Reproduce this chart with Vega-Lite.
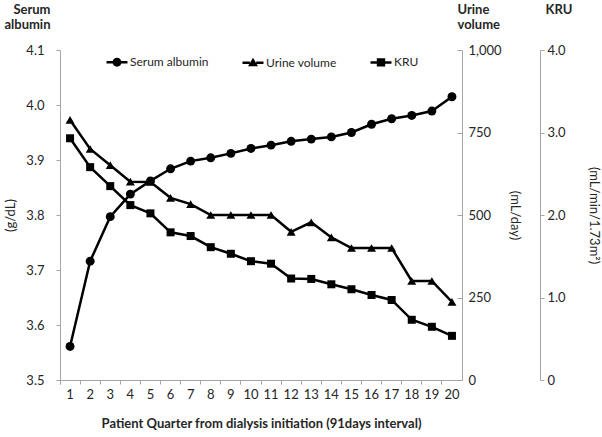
{
  "$schema": "https://vega.github.io/schema/vega-lite/v6.json",
  "width": 402,
  "height": 330,
  "autosize": "none",
  "padding": {"left": 60, "top": 50, "right": 140, "bottom": 57},
  "background": "white",
  "config": {
    "font": "Lato",
    "view": {"stroke": null},
    "axis": {
      "labelFont": "Lato",
      "titleFont": "Lato",
      "labelFontSize": 13,
      "titleFontSize": 13,
      "labelColor": "#262626",
      "titleColor": "#262626",
      "titleFontWeight": "normal",
      "domainColor": "#a6a6a6",
      "tickColor": "#a6a6a6",
      "grid": false
    }
  },
  "layer": [
    {
      "data": {
        "values": [
          {"q": 1, "albumin": 3.561, "urine": 788, "kru": 2.93},
          {"q": 2, "albumin": 3.716, "urine": 700, "kru": 2.58},
          {"q": 3, "albumin": 3.797, "urine": 651, "kru": 2.35},
          {"q": 4, "albumin": 3.838, "urine": 601, "kru": 2.12},
          {"q": 5, "albumin": 3.862, "urine": 600, "kru": 2.02},
          {"q": 6, "albumin": 3.884, "urine": 552, "kru": 1.79},
          {"q": 7, "albumin": 3.898, "urine": 533, "kru": 1.745},
          {"q": 8, "albumin": 3.904, "urine": 500, "kru": 1.61},
          {"q": 9, "albumin": 3.912, "urine": 500, "kru": 1.53},
          {"q": 10, "albumin": 3.921, "urine": 500, "kru": 1.44},
          {"q": 11, "albumin": 3.927, "urine": 500, "kru": 1.41},
          {"q": 12, "albumin": 3.934, "urine": 449, "kru": 1.23},
          {"q": 13, "albumin": 3.938, "urine": 478, "kru": 1.225},
          {"q": 14, "albumin": 3.942, "urine": 432, "kru": 1.16},
          {"q": 15, "albumin": 3.95, "urine": 400, "kru": 1.1},
          {"q": 16, "albumin": 3.965, "urine": 400, "kru": 1.03},
          {"q": 17, "albumin": 3.975, "urine": 400, "kru": 0.97},
          {"q": 18, "albumin": 3.981, "urine": 300, "kru": 0.73},
          {"q": 19, "albumin": 3.989, "urine": 300, "kru": 0.645},
          {"q": 20, "albumin": 4.015, "urine": 237, "kru": 0.535}
        ]
      },
      "encoding": {
        "x": {
          "field": "q",
          "type": "ordinal",
          "scale": {"type": "band", "paddingInner": 0, "paddingOuter": 0},
          "axis": {
            "title": "Patient Quarter from dialysis initiation (91days interval)",
            "titleFontWeight": "bold",
            "titlePadding": 16,
            "labelAngle": 0,
            "labelPadding": 4,
            "tickSize": 4,
            "bandPosition": 0,
            "tickExtra": true
          }
        }
      },
      "layer": [
        {
          "layer": [
            {
              "mark": {"type": "line", "color": "black", "strokeWidth": 2.5, "point": {"filled": true, "color": "black", "shape": "circle", "size": 80}},
              "encoding": {
                "y": {
                  "field": "albumin",
                  "type": "quantitative",
                  "scale": {"domain": [3.5, 4.1], "zero": false, "nice": false},
                  "axis": {
                    "orient": "left",
                    "title": "(g/dL)",
                    "values": [3.5, 3.6, 3.7, 3.8, 3.9, 4.0, 4.1],
                    "format": ".1f",
                    "tickSize": 4,
                    "labelPadding": 12,
                    "titlePadding": 8
                  }
                }
              }
            },
            {
              "mark": {"type": "point", "opacity": 0},
              "encoding": {
                "y": {
                  "field": "albumin",
                  "type": "quantitative",
                  "axis": {
                    "orient": "left",
                    "labels": false,
                    "ticks": false,
                    "domain": false,
                    "title": ["Serum", "albumin"],
                    "titleAngle": 0,
                    "titleAlign": "right",
                    "titleBaseline": "top",
                    "titleX": -10,
                    "titleY": -47,
                    "titleFontWeight": "bold",
                    "titleLineHeight": 15
                  }
                }
              }
            }
          ],
          "resolve": {"axis": {"y": "independent"}}
        },
        {
          "layer": [
            {
              "mark": {"type": "line", "color": "black", "strokeWidth": 2.5, "point": {"filled": true, "color": "black", "shape": "triangle-up", "size": 80}},
              "encoding": {
                "y": {
                  "field": "urine",
                  "type": "quantitative",
                  "scale": {"domain": [0, 1000], "nice": false},
                  "axis": {
                    "orient": "right",
                    "title": "(mL/day)",
                    "values": [0, 250, 500, 750, 1000],
                    "format": ",.0f",
                    "tickSize": -5,
                    "labelPadding": 11,
                    "titlePadding": 6
                  }
                }
              }
            },
            {
              "mark": {"type": "point", "opacity": 0},
              "encoding": {
                "y": {
                  "field": "urine",
                  "type": "quantitative",
                  "axis": {
                    "orient": "right",
                    "labels": false,
                    "ticks": false,
                    "domain": false,
                    "title": ["Urine", "volume"],
                    "titleAngle": 0,
                    "titleAlign": "left",
                    "titleBaseline": "top",
                    "titleX": -5,
                    "titleY": -47,
                    "titleFontWeight": "bold",
                    "titleLineHeight": 15
                  }
                }
              }
            }
          ],
          "resolve": {"axis": {"y": "independent"}}
        },
        {
          "layer": [
            {
              "mark": {"type": "line", "color": "black", "strokeWidth": 2.5, "point": {"filled": true, "color": "black", "shape": "square", "size": 64}},
              "encoding": {
                "y": {
                  "field": "kru",
                  "type": "quantitative",
                  "scale": {"domain": [0, 4], "nice": false},
                  "axis": {
                    "orient": "right",
                    "offset": 78,
                    "title": "(mL/min/1.73m²)",
                    "values": [0, 1, 2, 3, 4],
                    "labelExpr": "datum.value == 0 ? '0' : format(datum.value, '.1f')",
                    "tickSize": 4,
                    "labelPadding": 3,
                    "titlePadding": 21
                  }
                }
              }
            },
            {
              "mark": {"type": "point", "opacity": 0},
              "encoding": {
                "y": {
                  "field": "kru",
                  "type": "quantitative",
                  "axis": {
                    "orient": "right",
                    "offset": 78,
                    "labels": false,
                    "ticks": false,
                    "domain": false,
                    "title": "KRU",
                    "titleAngle": 0,
                    "titleAlign": "left",
                    "titleBaseline": "top",
                    "titleX": 5,
                    "titleY": -47,
                    "titleFontWeight": "bold"
                  }
                }
              }
            }
          ],
          "resolve": {"axis": {"y": "independent"}}
        }
      ],
      "resolve": {"scale": {"y": "independent"}}
    },
    {
      "data": {"values": [{"series": "Serum albumin"}, {"series": "Urine volume"}, {"series": "KRU"}]},
      "mark": {"type": "point", "opacity": 0, "filled": true, "color": "black"},
      "encoding": {
        "shape": {
          "field": "series",
          "type": "nominal",
          "scale": {
            "domain": ["Serum albumin", "Urine volume", "KRU"],
            "range": [
              "M-2,-0.24H-0.7V0.24H-2Z M0.7,-0.24H2V0.24H0.7Z M0.85,0A0.85,0.85,0,1,1,-0.85,0A0.85,0.85,0,1,1,0.85,0Z",
              "M-2,-0.24H-0.6V0.24H-2Z M0.6,-0.24H2V0.24H0.6Z M0,-0.95L0.95,0.65L-0.95,0.65Z",
              "M-2,-0.24H-0.75V0.24H-2Z M0.75,-0.24H2V0.24H0.75Z M-0.8,-0.8H0.8V0.8H-0.8Z"
            ]
          },
          "legend": {
            "orient": "none",
            "legendX": 51,
            "legendY": 6,
            "direction": "horizontal",
            "title": null,
            "symbolSize": 110,
            "labelOffset": 7,
            "columnPadding": 30,
            "labelFont": "Lato",
            "labelFontSize": 12,
            "labelColor": "#262626",
            "encode": {
              "symbols": {
                "update": {
                  "fill": {"value": "black"},
                  "stroke": {"value": "transparent"},
                  "opacity": {"value": 1},
                  "fillOpacity": {"value": 1}
                }
              }
            }
          }
        }
      }
    }
  ]
}
